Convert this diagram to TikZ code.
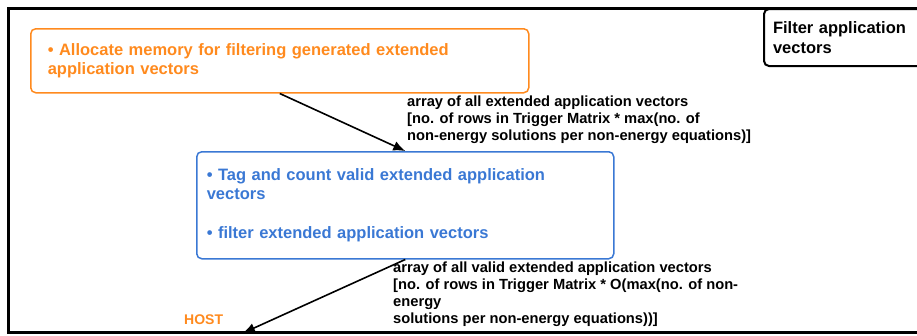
\documentclass[tikz,border=0pt]{standalone}
\usepackage{fontspec}
\setmainfont{Liberation Sans}
\usepackage{xcolor}
\usetikzlibrary{arrows.meta, calc, positioning}

\definecolor{hostorange}{HTML}{FF8A1E}
\definecolor{taskblue}{HTML}{3A78D4}

\begin{document}
\begin{tikzpicture}[x=1pt,y=-1pt,
    boxfont/.style={font=\fontsize{16.5}{19.3}\selectfont\bfseries},
    labelfont/.style={font=\fontsize{14.7}{16.9}\selectfont\bfseries},
    taskbox/.style={draw,rounded corners=5pt,line width=1.5pt,boxfont,align=left,anchor=north west},
    edgelabel/.style={labelfont,align=left,anchor=north west,inner sep=0pt},
    flow/.style={line width=1.6pt,-{Latex[length=12pt,width=10pt]}}]
\clip (0,0) rectangle (917,335);
% frame of the filter stage
\draw[line width=3pt] (930,8) -- (8,8) -- (8,332) -- (930,332);
\node[taskbox,hostorange,inner xsep=17pt,text width=464pt,minimum height=64pt] (alloc) at (30,28)
  {• Allocate memory for filtering generated extended\\application vectors};
\node[taskbox,taskblue,inner xsep=10pt,text width=397pt,minimum height=107pt] (tag) at (196,151)
  {• Tag and count valid extended application\\vectors\\[19.3pt]• filter extended application vectors};
\node[taskbox,line width=2pt,fill=white,inner xsep=9pt,text width=160pt,minimum height=57pt] (stage) at (763,8)
  {Filter application\\vectors};
\node[edgelabel] (allvec) at (407,96)
  {array of all extended application vectors\\{}[no. of rows in Trigger Matrix * max(no. of\\non-energy solutions per non-energy equations)]};
\node[edgelabel] (validvec) at (393,262)
  {array of all valid extended application vectors\\{}[no. of rows in Trigger Matrix * O(max(no. of non-\\energy\\solutions per non-energy equations))]};
\node[hostorange,font=\fontsize{14}{16}\selectfont\bfseries,anchor=base west,inner sep=0pt] (host) at (184,324) {HOST};
\coordinate (hostin) at (243,333);
\draw[flow] (alloc.south) -- (tag.north);
\draw[flow] (tag.south) -- (hostin);
\end{tikzpicture}
\end{document}
